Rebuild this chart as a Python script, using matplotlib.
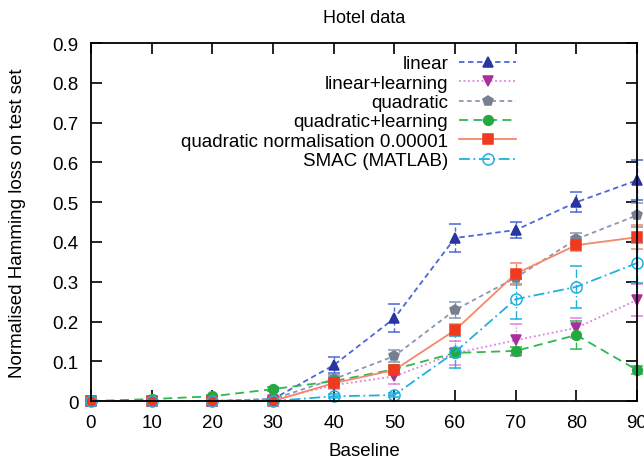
import numpy as np
import matplotlib
matplotlib.use("Agg")
import matplotlib.pyplot as plt
from matplotlib.lines import Line2D

plt.rcParams["font.family"] = ["Liberation Sans", "DejaVu Sans"]

baseline = [0, 10, 20, 30, 40, 50, 60, 70, 80, 90]

linear      = [0, 0, 0, 0.005, 0.09, 0.208, 0.41, 0.43, 0.50, 0.555]
linear_err  = [0, 0, 0, 0.003, 0.02, 0.035, 0.035, 0.02, 0.025, 0.05]
lin_learn     = [0, 0, 0, 0.003, 0.04, 0.062, 0.12, 0.153, 0.184, 0.254]
lin_learn_err = [0, 0, 0, 0.003, 0.01, 0.02, 0.03, 0.04, 0.025, 0.04]
quad      = [0, 0, 0, 0.005, 0.055, 0.113, 0.229, 0.31, 0.407, 0.467]
quad_err  = [0, 0, 0, 0.003, 0.01, 0.015, 0.02, 0.015, 0.015, 0.03]
quad_learn     = [0, 0.005, 0.012, 0.03, 0.05, 0.08, 0.121, 0.126, 0.166, 0.078]
quad_learn_err = [0, 0.003, 0.003, 0.005, 0.008, 0.01, 0.01, 0.01, 0.036, 0.01]
quad_norm     = [0, 0, 0, 0, 0.045, 0.078, 0.178, 0.32, 0.392, 0.412]
quad_norm_err = [0, 0, 0, 0, 0.008, 0.01, 0.015, 0.027, 0.015, 0.03]
smac     = [0, 0, 0, 0, 0.012, 0.015, 0.123, 0.256, 0.287, 0.347]
smac_err = [0, 0, 0, 0, 0.005, 0.005, 0.04, 0.05, 0.052, 0.05]

series = [
    ("linear", linear, linear_err, "^", 6.5, "#2a35a0", "#2a35a0", "#4a68d8", (0, (3, 2))),
    ("linear+learning", lin_learn, lin_learn_err, "v", 6.5, "#a8309a", "#a8309a", "#e080e0", (0, (1, 1.5))),
    ("quadratic", quad, quad_err, "p", 7, "#778090", "#778090", "#8898b0", (0, (2.5, 2))),
    ("quadratic+learning", quad_learn, quad_learn_err, "o", 7, "#22aa40", "#22aa40", "#30b850", (0, (5, 3))),
    ("quadratic normalisation 0.00001", quad_norm, quad_norm_err, "s", 6.5, "#f03a20", "#f03a20", "#f58868", "-"),
    ("SMAC (MATLAB)", smac, smac_err, "o", 8, "none", "#20b0e0", "#20b0e0", (0, (6, 2, 1, 2))),
]

fig, ax = plt.subplots(figsize=(6.44, 4.6), dpi=100)
fig.subplots_adjust(left=0.1413, right=0.989, bottom=0.126, top=0.904)

handles = []
for label, y, err, mk, ms, fc, ec, lc, ls in series:
    c = ax.errorbar(baseline, y, yerr=err, marker=mk, ms=ms,
                    mfc=fc, mec=ec, mew=1.1, color=lc, ls=ls, lw=1.3,
                    ecolor=lc, elinewidth=1.0, capsize=4, capthick=1.0, clip_on=False)
    for artist in c.lines[2]:
        artist.set_linestyle(ls)
    # legend sample: line + marker only
    handles.append(Line2D([], [], marker=mk, ms=ms, mfc=fc, mec=ec, mew=1.1,
                          color=lc, ls=ls, lw=1.3, label=label))

ax.set_xlim(0, 90)
ax.set_ylim(0, 0.9)
ax.set_xticks(range(0, 91, 10))
ax.set_yticks(np.arange(0, 0.91, 0.1))
ax.set_yticklabels(["0", "0.1", "0.2", "0.3", "0.4", "0.5", "0.6", "0.7", "0.8", "0.9"])
ax.tick_params(direction="in", length=8, width=1.2, top=True, right=True, labelsize=13.5)
ax.tick_params(axis="y", pad=9)
ax.tick_params(axis="x", pad=9)
for s in ax.spines.values():
    s.set_linewidth(1.3)

ax.set_title("Hotel data", fontsize=13, pad=15)
ax.set_xlabel("Baseline", fontsize=13.5, labelpad=8)
ax.set_ylabel("Normalised Hamming loss on test set", fontsize=13.5, labelpad=19)

ax.legend(handles=handles, loc="upper right", bbox_to_anchor=(0.802, 1.003), frameon=False,
          markerfirst=False, fontsize=13.5, handlelength=3.0, handletextpad=0.6,
          labelspacing=0.12, borderpad=0.2)

fig.savefig("out.png", dpi=100)
